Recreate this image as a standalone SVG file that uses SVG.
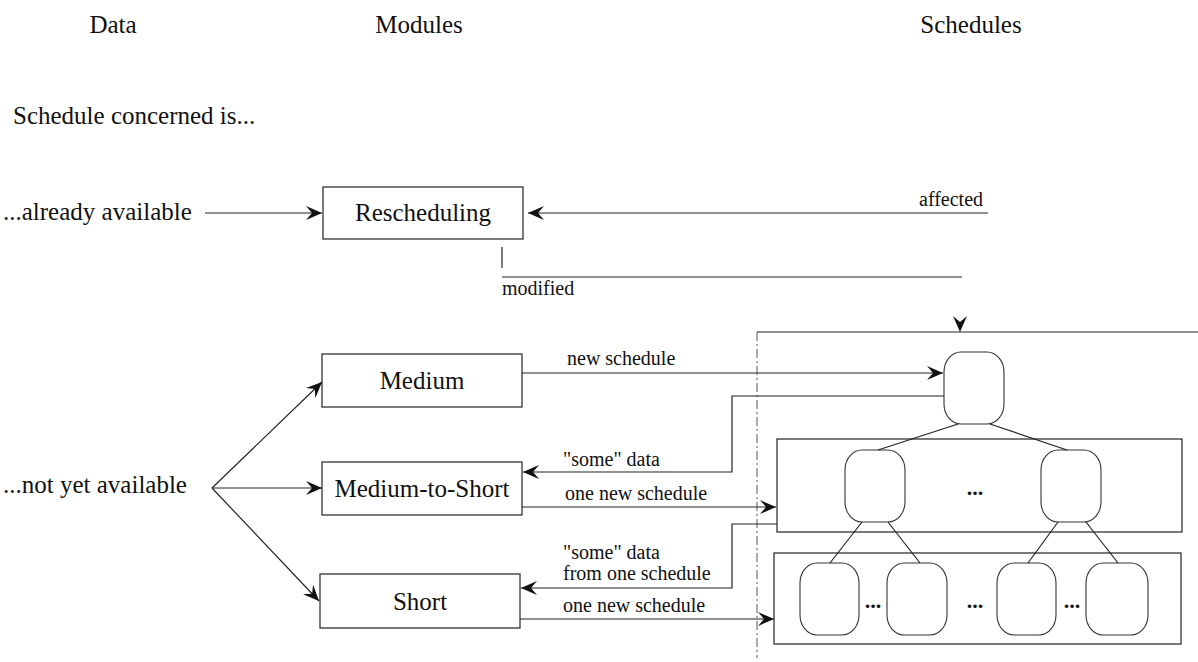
<svg xmlns="http://www.w3.org/2000/svg" width="1198" height="662" viewBox="0 0 1198 662">
<style>
.big{font-family:'Liberation Serif','DejaVu Serif',serif;font-size:25px;fill:#111}
.sm{font-family:'Liberation Serif','DejaVu Serif',serif;font-size:20px;fill:#111}
.box{fill:none;stroke:#222;stroke-width:1.2}
.ln{fill:none;stroke:#222;stroke-width:1.2}
.node{fill:none;stroke:#333;stroke-width:1.1}
.dash{fill:none;stroke:#555;stroke-width:1;stroke-dasharray:9 3 2 3}
.dots{font-family:'Liberation Serif','DejaVu Serif',serif;font-size:22px;font-weight:bold;fill:#111}
</style>
<defs>
<marker id="arr" viewBox="0 0 16 14" refX="16" refY="7" markerWidth="16" markerHeight="14" markerUnits="userSpaceOnUse" orient="auto">
<path d="M16,7 L0,0 L6,7 L0,14 Z" fill="#111"/>
</marker>
<path id="ah" d="M0,0 L-16,-7 L-10,0 L-16,7 Z" fill="#111"/>
</defs>
<rect width="1198" height="662" fill="#fff"/>

<g id="headers">
<text class="big" x="113" y="33" text-anchor="middle">Data</text>
<text class="big" x="419" y="33" text-anchor="middle">Modules</text>
<text class="big" x="971" y="33" text-anchor="middle">Schedules</text>
<text class="big" x="13" y="124">Schedule concerned is...</text>
<text class="big" x="3" y="220">...already available</text>
<text class="big" x="3" y="493">...not yet available</text>
</g>

<g id="rescheduling">
<rect class="box" x="323" y="187" width="200" height="52"/>
<text class="big" x="423" y="221" text-anchor="middle">Rescheduling</text>
</g>
<g id="medium">
<rect class="box" x="322" y="354" width="200" height="53"/>
<text class="big" x="422" y="389" text-anchor="middle">Medium</text>
</g>
<g id="medium-to-short">
<rect class="box" x="322" y="462" width="200" height="53"/>
<text class="big" x="422" y="497" text-anchor="middle">Medium-to-Short</text>
</g>
<g id="short">
<rect class="box" x="320" y="574" width="200" height="54"/>
<text class="big" x="420" y="610" text-anchor="middle">Short</text>
</g>

<g id="schedules">
<line class="ln" x1="757" y1="332" x2="1198" y2="332"/>
<line class="dash" x1="757" y1="332" x2="757" y2="658"/>
<rect class="node" x="944" y="352" width="60" height="72" rx="17" ry="20"/>
<rect class="box" x="777" y="439" width="405" height="93"/>
<rect class="node" x="845" y="450" width="60" height="72" rx="17" ry="20"/>
<rect class="node" x="1041" y="450" width="60" height="72" rx="17" ry="20"/>
<text class="dots" x="975" y="495" text-anchor="middle">...</text>
<rect class="box" x="774" y="553" width="407" height="91"/>
<rect class="node" x="800" y="563" width="59" height="72" rx="17" ry="20"/>
<rect class="node" x="887" y="563" width="60" height="72" rx="17" ry="20"/>
<rect class="node" x="997" y="563" width="59" height="72" rx="17" ry="20"/>
<rect class="node" x="1086" y="563" width="62" height="72" rx="17" ry="20"/>
<text class="dots" x="873" y="608" text-anchor="middle">...</text>
<text class="dots" x="975" y="608" text-anchor="middle">...</text>
<text class="dots" x="1072" y="608" text-anchor="middle">...</text>
<line class="ln" x1="958" y1="424" x2="878" y2="450"/>
<line class="ln" x1="990" y1="424" x2="1067" y2="450"/>
<line class="ln" x1="862" y1="522" x2="830" y2="563"/>
<line class="ln" x1="888" y1="522" x2="920" y2="563"/>
<line class="ln" x1="1058" y1="522" x2="1028" y2="563"/>
<line class="ln" x1="1086" y1="522" x2="1118" y2="563"/>
</g>

<g id="connectors">
<line class="ln" x1="205" y1="213" x2="322" y2="213" marker-end="url(#arr)"/>
<line class="ln" x1="988" y1="213" x2="528" y2="213" marker-end="url(#arr)"/>
<text class="sm" x="919" y="206">affected</text>
<line class="ln" x1="502" y1="247" x2="502" y2="268"/>
<line class="ln" x1="502" y1="277" x2="962" y2="277"/>
<text class="sm" x="502" y="295">modified</text>
<use href="#ah" transform="translate(960,332) rotate(90)"/>
<line class="ln" x1="212" y1="488" x2="322" y2="382" marker-end="url(#arr)"/>
<line class="ln" x1="212" y1="488" x2="322" y2="488" marker-end="url(#arr)"/>
<line class="ln" x1="212" y1="488" x2="319" y2="601" marker-end="url(#arr)"/>
<line class="ln" x1="522" y1="373" x2="943" y2="373" marker-end="url(#arr)"/>
<text class="sm" x="567" y="365">new schedule</text>
<path class="ln" d="M944,396 H732 V472 H523" marker-end="url(#arr)"/>
<text class="sm" x="563" y="466">"some" data</text>
<line class="ln" x1="522" y1="507" x2="776" y2="507" marker-end="url(#arr)"/>
<text class="sm" x="565" y="500">one new schedule</text>
<path class="ln" d="M777,524 H732 V588 H521" marker-end="url(#arr)"/>
<text class="sm" x="563" y="559">"some" data</text>
<text class="sm" x="563" y="580">from one schedule</text>
<line class="ln" x1="520" y1="619" x2="774" y2="619" marker-end="url(#arr)"/>
<text class="sm" x="563" y="612">one new schedule</text>
</g>
</svg>
